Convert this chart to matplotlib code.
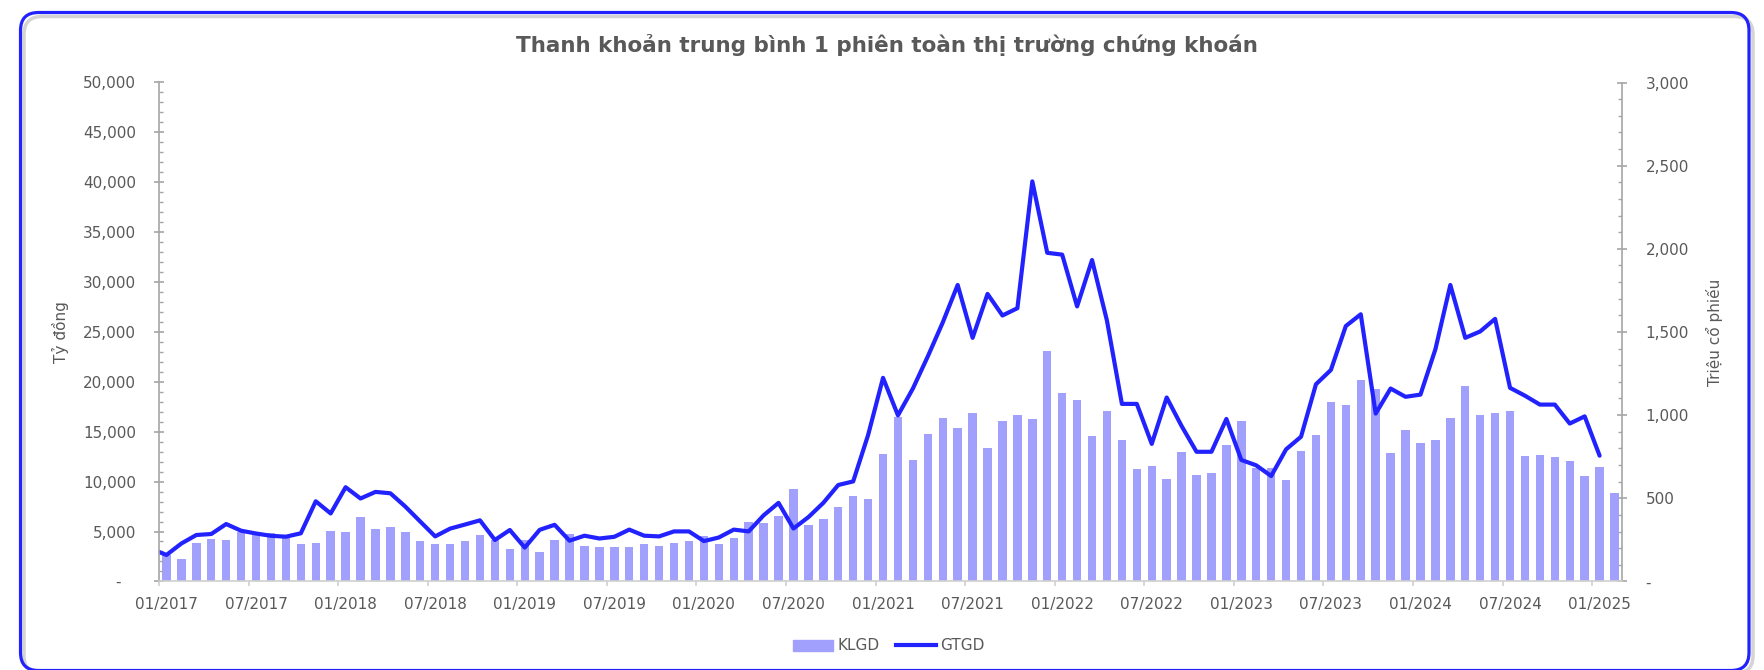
import matplotlib
matplotlib.use("Agg")
import matplotlib.pyplot as plt
import matplotlib.patches as mpatches
from matplotlib.lines import Line2D
from matplotlib.transforms import IdentityTransform
from matplotlib.ticker import FuncFormatter, MultipleLocator
import pandas as pd

# Danh mục tháng: 01/2017 -> 02/2025
months = pd.date_range("2017-01-01", "2025-02-01", freq="MS").strftime("%m/%Y").tolist()

# KLGD (triệu cổ phiếu), mỗi tháng từ 01/2017 đến 02/2025
klgd = [160, 136, 229, 257, 251, 299, 287, 292, 272, 225, 231, 302,
        295, 385, 313, 328, 299, 241, 223, 225, 243, 277, 250, 195,
        250, 175, 250, 285, 210, 206, 204, 204, 225, 215, 232, 245,
        273, 223, 258, 359, 352, 393, 556, 337, 376, 449, 511, 494,
        764, 988, 730, 887, 983, 923, 1014, 805, 962, 999, 979, 1383,
        1132, 1091, 874, 1027, 848, 674, 691, 614, 777, 642, 649, 818,
        962, 680, 681, 608, 782, 880, 1078, 1061, 1209, 1157, 771, 908,
        835, 853, 983, 1175, 1001, 1014, 1024, 752, 758, 747, 726, 631,
        687, 530]

# GTGD (tỷ đồng), từ 12/2016 đến 01/2025
gtgd_months = ["12/2016"] + months[:-1]
gtgd = [3250, 2650, 3800, 4650, 4750, 5750, 5080, 4800, 4570, 4480, 4820, 8030,
        6810, 9440, 8310, 8970, 8830, 7500, 6000, 4510, 5290, 5700, 6120, 4150,
        5150, 3390, 5170, 5670, 4080, 4580, 4300, 4470, 5190, 4580, 4510, 5010,
        5010, 4040, 4400, 5190, 5010, 6620, 7870, 5300, 6440, 7870, 9660, 10020,
        14670, 20400, 16640, 19330, 22550, 25950, 29710, 24410, 28810, 26650, 27380, 40090,
        32930, 32750, 27560, 32210, 26130, 17790, 17790, 13780, 18430, 15570, 12990, 12990,
        16280, 12170, 11630, 10560, 13240, 14500, 19760, 21190, 25590, 26770, 16820, 19330,
        18500, 18720, 23260, 29710, 24410, 25050, 26310, 19400, 18610, 17720, 17720, 15820,
        16540, 12600]

title = "Thanh khoản trung bình 1 phiên toàn thị trường chứng khoán"
grey = "#595959"
bar_color = "#a1a1fd"
line_color = "#2222ff"

fig = plt.figure(figsize=(17.65, 6.70), dpi=100)
ax = fig.add_axes([159 / 1765, 1 - 581.4 / 670, 1463 / 1765, 498.9 / 670])
ax2 = ax.twinx()

x_bar = list(range(len(klgd)))
x_line = [months.index(m) if m in months else -1 for m in gtgd_months]

ax2.bar(x_bar, klgd, width=0.56, color=bar_color, zorder=2)
ax.plot(x_line, gtgd, color=line_color, lw=3, solid_joinstyle="round", solid_capstyle="round")

# đường nằm trên cột
ax.set_zorder(ax2.get_zorder() + 1)
ax.patch.set_visible(False)

ax.set_xlim(-0.5, len(months) - 0.5)
ax.set_ylim(0, 50000)
ax2.set_ylim(0, 3000)

fmt_left = FuncFormatter(lambda v, _: "-   " if v == 0 else f"{v:,.0f}")
fmt_right = FuncFormatter(lambda v, _: "-" if v == 0 else f"{v:,.0f}")
ax.yaxis.set_major_locator(MultipleLocator(5000))
ax.yaxis.set_minor_locator(MultipleLocator(1000))
ax.yaxis.set_major_formatter(fmt_left)
ax2.yaxis.set_major_locator(MultipleLocator(500))
ax2.yaxis.set_minor_locator(MultipleLocator(100))
ax2.yaxis.set_major_formatter(fmt_right)

axis_grey = "#a6a6a6"
ax.tick_params(axis="y", which="major", direction="inout", length=7, width=1.2,
               color=axis_grey, labelcolor=grey, labelsize=11, pad=13)
ax.tick_params(axis="y", which="minor", direction="in", length=3.2, width=1,
               color=axis_grey)
ax2.tick_params(axis="y", which="major", direction="inout", length=7, width=1.2,
                color=axis_grey, labelcolor=grey, labelsize=11, pad=13.5)
ax2.tick_params(axis="y", which="minor", direction="in", length=3.2, width=1,
                color=axis_grey)

# vạch chia ở ranh giới tháng, nhãn ở giữa tháng
ax.set_xticks([i - 0.5 for i in range(0, len(months), 6)])
ax.set_xticklabels([])
ax.set_xticks(list(range(0, len(months), 6)), minor=True)
ax.set_xticklabels(months[::6], minor=True)
ax.tick_params(axis="x", which="major", direction="out", length=3.6, width=1.2,
               color="#d0d0d0")
ax.tick_params(axis="x", which="minor", length=0, labelcolor=grey, labelsize=11, pad=11)

for s in ["top", "right"]:
    ax.spines[s].set_visible(False)
for s in ["top", "left", "bottom"]:
    ax2.spines[s].set_visible(False)
ax.spines["left"].set_color(axis_grey)
ax.spines["left"].set_linewidth(1.2)
ax.spines["bottom"].set_color("#d0d0d0")
ax.spines["bottom"].set_linewidth(1.2)
ax2.spines["right"].set_color(axis_grey)
ax2.spines["right"].set_linewidth(1.2)

fig.text(887 / 1765, 1 - 45 / 670, title, ha="center", va="center",
         fontsize=15.5, fontweight="bold", color=grey)
fig.text(60 / 1765, 1 - 332 / 670, "Tỷ đồng", rotation=90, ha="center", va="center",
         fontsize=11, color=grey)
fig.text(1714 / 1765, 1 - 332 / 670, "Triệu cổ phiếu", rotation=90, ha="center", va="center",
         fontsize=11, color=grey)

handles = [mpatches.Patch(color=bar_color, label="KLGD"),
           Line2D([], [], color=line_color, lw=3, label="GTGD")]
fig.legend(handles=handles, loc="center", bbox_to_anchor=(889 / 1765, 1 - 646 / 670),
           ncol=2, frameon=False, fontsize=11, handlelength=2.6, handletextpad=0.3,
           columnspacing=1.1, labelcolor=grey)

# khung viền bo góc màu xanh (cạnh dưới nằm sát mép ảnh)
shadow = mpatches.FancyBboxPatch((24, -3.5), 1729, 657, boxstyle="round,pad=0,rounding_size=18",
                                 transform=IdentityTransform(), facecolor="none",
                                 edgecolor="#d4d4d4", lw=2.5)
border = mpatches.FancyBboxPatch((20.5, -0.5), 1728.5, 658, boxstyle="round,pad=0,rounding_size=18",
                                 transform=IdentityTransform(), facecolor="none",
                                 edgecolor=line_color, lw=2.3)
fig.patches.append(shadow)
fig.patches.append(border)

fig.savefig("out.png", dpi=100)
